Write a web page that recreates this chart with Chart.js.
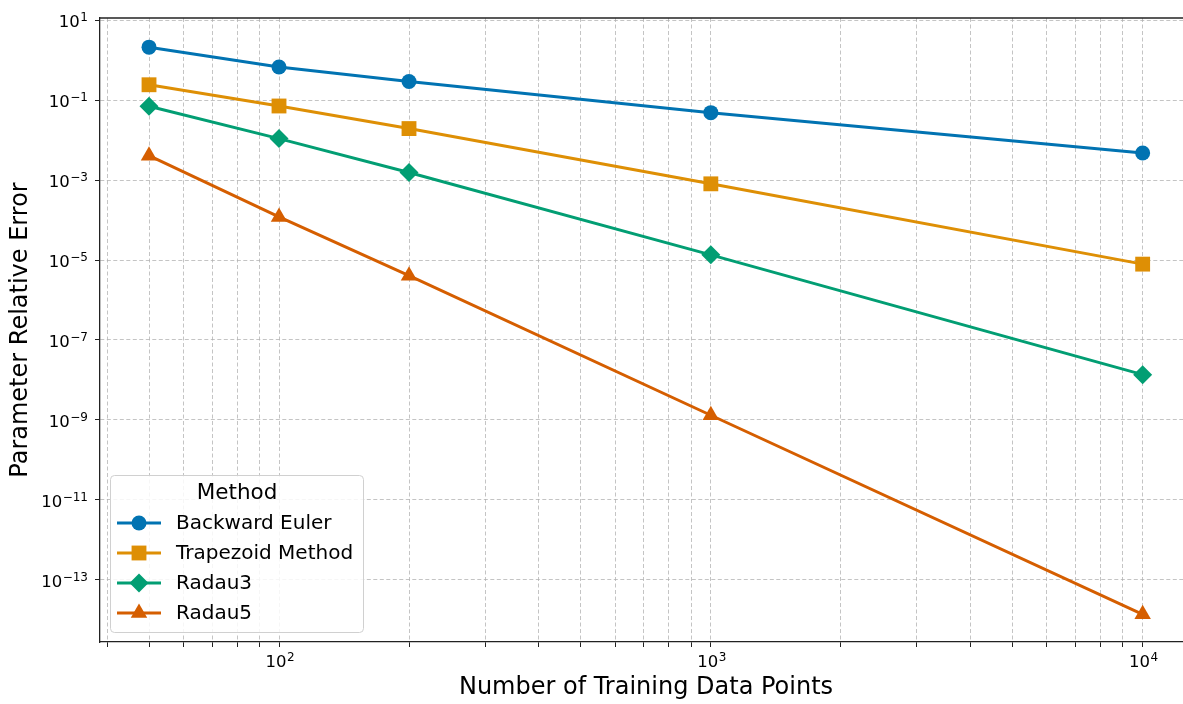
<!DOCTYPE html>
<html>
<head>
<meta charset="utf-8">
<script src="https://cdn.jsdelivr.net/npm/chart.js@4.4.1/dist/chart.umd.min.js"></script>
<style>
  html, body { margin: 0; padding: 0; background: #fff; overflow: hidden; }
  canvas { display: block; }
</style>
</head>
<body>
<canvas id="errChart" width="1183" height="704"></canvas>
<script>
// data
const trainingPoints = [50, 100, 200, 1000, 10000];
const backwardEuler = [2.14, 0.68, 0.296, 0.049, 0.0048];
const trapezoidMethod = [0.245, 0.072, 0.0196, 0.00081, 7.9e-6];
const radau3 = [0.071, 0.011, 0.00155, 1.35e-5, 1.35e-8];
const radau5 = [0.0041, 1.2e-4, 4.07e-6, 1.3e-9, 1.35e-14];

const seriesNames = ['Backward Euler', 'Trapezoid Method', 'Radau3', 'Radau5'];
const seriesColors = ['#0173b2', '#de8f05', '#029e73', '#d55e00'];
const seriesMarkers = ['circle', 'rect', 'rectRot', 'triangle'];
const markerSizes = [7.5, 10.5, 9.5, 9.5];

// tick positions + labels (labels are 10^exp, drawn mathtext-style)
const xTickValues = [40, 50, 60, 70, 80, 90, 100, 200, 300, 400, 500, 600, 700, 800, 900,
                     1000, 2000, 3000, 4000, 5000, 6000, 7000, 8000, 9000, 10000];
const xMajorValues = [100, 1000, 10000];
const xMajorExponents = ['2', '3', '4'];
const yTickValues = [1e1, 1e-1, 1e-3, 1e-5, 1e-7, 1e-9, 1e-11, 1e-13];
const yTickExponents = ['1', '−1', '−3', '−5', '−7', '−9', '−11', '−13'];

const FONT = "'DejaVu Sans', sans-serif";
const gridColor = 'rgba(176,176,176,0.75)';

const allSeries = [backwardEuler, trapezoidMethod, radau3, radau5];
const datasets = allSeries.map((vals, i) => ({
    label: seriesNames[i],
    data: trainingPoints.map((x, j) => ({ x: x, y: vals[j] })),
    borderColor: seriesColors[i],
    backgroundColor: seriesColors[i],
    borderWidth: 3,
    pointStyle: seriesMarkers[i],
    pointRadius: markerSizes[i],
    pointHoverRadius: markerSizes[i],
    pointBorderWidth: 0,
    tension: 0
}));

// draws "10" with a raised exponent; anchor = right edge or center
function drawPow(ctx, exp, x, baseY, align) {
    ctx.font = '16.5px ' + FONT;
    const wBase = ctx.measureText('10').width;
    ctx.font = '12px ' + FONT;
    const wExp = ctx.measureText(exp).width;
    const total = wBase + wExp + 0.5;
    const left = align === 'right' ? x - total : x - total / 2;
    ctx.textAlign = 'left';
    ctx.textBaseline = 'alphabetic';
    ctx.font = '16.5px ' + FONT;
    ctx.fillText('10', left, baseY);
    ctx.font = '12px ' + FONT;
    ctx.fillText(exp, left + wBase + 0.5, baseY - 6);
}

// top spine, tick labels, x title and legend box (inside lower left)
const framePlugin = {
    id: 'frame',
    afterDraw(chart) {
        const { ctx, chartArea } = chart;
        const xs = chart.scales.x, ys = chart.scales.y;
        ctx.save();
        ctx.strokeStyle = '#222';
        ctx.lineWidth = 1.3;
        ctx.beginPath();
        ctx.moveTo(chartArea.left, chartArea.top);
        ctx.lineTo(chartArea.right, chartArea.top);
        ctx.stroke();

        ctx.fillStyle = '#000';
        xMajorValues.forEach((v, i) => {
            drawPow(ctx, xMajorExponents[i], xs.getPixelForValue(v) + 1, chartArea.bottom + 25, 'center');
        });
        yTickValues.forEach((v, i) => {
            drawPow(ctx, yTickExponents[i], 88, ys.getPixelForValue(v) + 7, 'right');
        });

        // x title: the original axes run a little past the right edge of the image
        ctx.textAlign = 'center';
        ctx.textBaseline = 'alphabetic';
        ctx.font = '24px ' + FONT;
        ctx.fillText('Number of Training Data Points', 646, 694);

        // legend
        const bx = 110, by = 475, bw = 253, bh = 157;
        ctx.fillStyle = 'rgba(255,255,255,0.85)';
        ctx.strokeStyle = '#d0d0d0';
        ctx.lineWidth = 1;
        ctx.beginPath();
        ctx.roundRect(bx + 0.5, by + 0.5, bw, bh, 4);
        ctx.fill();
        ctx.stroke();

        ctx.fillStyle = '#000';
        ctx.textBaseline = 'middle';
        ctx.textAlign = 'center';
        ctx.font = '21.5px ' + FONT;
        ctx.fillText('Method', 237, 493);

        ctx.textAlign = 'left';
        ctx.font = '20px ' + FONT;
        chart.data.datasets.forEach((ds, i) => {
            const y = 523 + i * 30;
            ctx.strokeStyle = ds.borderColor;
            ctx.lineWidth = ds.borderWidth;
            ctx.beginPath();
            ctx.moveTo(117, y);
            ctx.lineTo(161, y);
            ctx.stroke();
            ctx.fillStyle = ds.backgroundColor;
            Chart.helpers.drawPoint(ctx, {
                pointStyle: ds.pointStyle, radius: ds.pointRadius, rotation: 0, borderWidth: 0
            }, 139, y);
            ctx.fillStyle = '#000';
            ctx.fillText(ds.label, 176, y + 1);
        });
        ctx.restore();
    }
};

const ctx = document.getElementById('errChart').getContext('2d');
const errChart = new Chart(ctx, {
    type: 'line',
    data: { datasets: datasets },
    options: {
        responsive: false,
        maintainAspectRatio: false,
        devicePixelRatio: 1,
        animation: false,
        layout: { autoPadding: false, padding: { top: 18, right: 0, left: 0, bottom: 0 } },
        plugins: { legend: { display: false }, tooltip: { enabled: false } },
        scales: {
            x: {
                type: 'logarithmic',
                min: 38.5,
                max: 12400,
                afterBuildTicks(scale) {
                    scale.ticks = xTickValues.map(v => ({ value: v, major: xMajorValues.includes(v) }));
                },
                afterFit(scale) {
                    scale.height = 62;
                    scale.paddingLeft = 0;
                    scale.paddingRight = 0;
                },
                ticks: { display: false, autoSkip: false },
                grid: {
                    color: gridColor,
                    lineWidth: 1,
                    tickLength: 5,
                    tickColor: '#222'
                },
                border: { display: true, color: '#222', width: 1.3, dash: [4, 2.5] },
                title: { display: false }
            },
            y: {
                type: 'logarithmic',
                min: 2.73e-15,
                max: 11.5,
                afterBuildTicks(scale) {
                    scale.ticks = yTickValues.map(v => ({ value: v }));
                },
                afterFit(scale) {
                    scale.width = 100;
                    scale.paddingTop = 0;
                    scale.paddingBottom = 0;
                },
                ticks: { display: false, autoSkip: false },
                grid: {
                    color: gridColor,
                    lineWidth: 1,
                    tickLength: 5,
                    tickColor: '#222'
                },
                border: { display: true, color: '#222', width: 1.3, dash: [4, 2.5] },
                title: {
                    display: true,
                    text: 'Parameter Relative Error',
                    color: '#000',
                    font: { family: FONT, size: 24 },
                    padding: { top: 6, bottom: 0 }
                }
            }
        }
    },
    plugins: [framePlugin]
});
</script>
</body>
</html>
